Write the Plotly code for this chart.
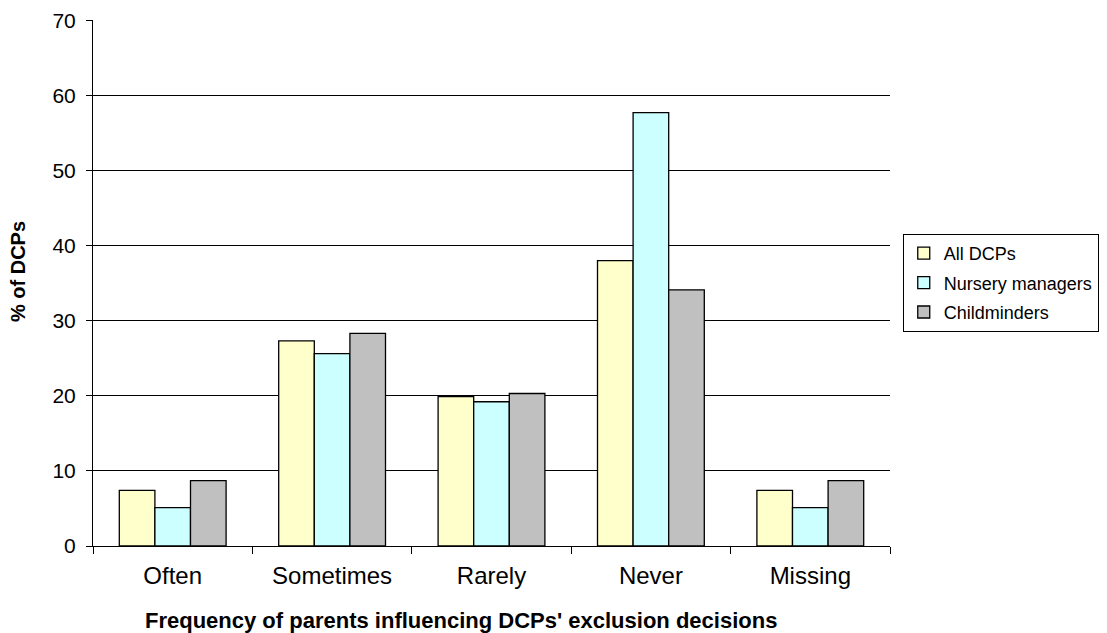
import plotly.graph_objects as go

categories = ["Often", "Sometimes", "Rarely", "Never", "Missing"]
all_dcps = [7.4, 27.3, 19.9, 38.0, 7.4]
nursery_managers = [5.1, 25.6, 19.2, 57.7, 5.1]
childminders = [8.7, 28.3, 20.3, 34.1, 8.7]

series = [
    ("All DCPs", all_dcps, "#FFFFCC"),
    ("Nursery managers", nursery_managers, "#CCFFFF"),
    ("Childminders", childminders, "#C0C0C0"),
]

fig = go.Figure()
for name, vals, color in series:
    fig.add_trace(go.Bar(
        name=name, x=categories, y=vals, legendgroup=name,
        marker=dict(color=color, line=dict(color="black", width=1.3)),
    ))

font_family = "Liberation Sans, Arial, sans-serif"
fig.update_layout(
    width=1099, height=625,
    margin=dict(l=85, r=217, t=12, b=87, autoexpand=False),
    paper_bgcolor="white", plot_bgcolor="white",
    barmode="group", bargap=0.33, bargroupgap=0,
    font=dict(family=font_family, size=18, color="black"),
    legend=dict(x=1.016, y=0.5, xanchor="left", yanchor="middle",
                bordercolor="black", borderwidth=1,
                font=dict(size=18), tracegroupgap=3, itemwidth=30),
    showlegend=True,
    annotations=[
        dict(text="<b>Frequency of parents influencing DCPs' exclusion decisions</b>",
             xref="paper", yref="paper", x=0.4617, y=-0.141,
             xanchor="center", yanchor="middle", showarrow=False,
             font=dict(size=22)),
        dict(text="<b>% of DCPs</b>", textangle=-90,
             xref="paper", yref="paper", x=-0.094, y=0.521,
             xanchor="center", yanchor="middle", showarrow=False,
             font=dict(size=20)),
    ],
)
fig.update_xaxes(
    type="category", tickson="boundaries", ticks="outside", ticklen=7,
    tickcolor="black", showline=True, linecolor="black", linewidth=1,
    automargin=False, ticklabelstandoff=8,
    tickfont=dict(size=24),
)
fig.update_yaxes(
    range=[0, 70.02], tickvals=[0, 10, 20, 30, 40, 50, 60, 70],
    ticks="outside", ticklen=6, tickcolor="black",
    showline=True, linecolor="black", linewidth=1,
    showgrid=True, gridcolor="black", gridwidth=1, zeroline=False,
    automargin=False, ticklabelstandoff=6,
    tickfont=dict(size=21),
)
fig.write_html("out.html")
